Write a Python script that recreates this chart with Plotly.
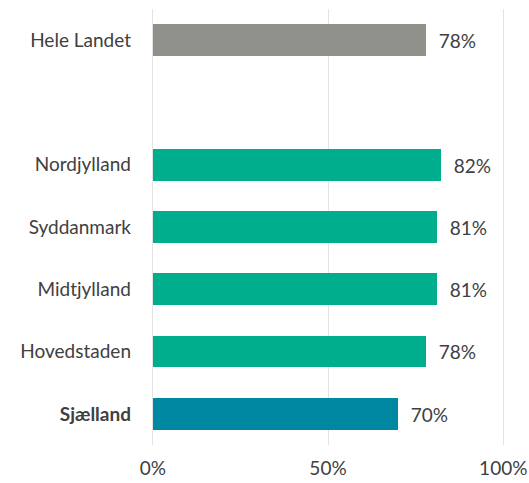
import plotly.graph_objects as go

categories = ["Hele Landet", "", "Nordjylland", "Syddanmark", "Midtjylland", "Hovedstaden", "Sjælland"]
values = [77.9, None, 82.3, 81.2, 81.2, 77.9, 70.0]
labels = ["78%", "", "82%", "81%", "81%", "78%", "70%"]
tick_labels = ["Hele Landet", "", "Nordjylland", "Syddanmark", "Midtjylland", "Hovedstaden", "<b>Sjælland</b>"]
colors = ["#91918B", "#00AE8E", "#00AE8E", "#00AE8E", "#00AE8E", "#00AE8E", "#0087A1"]
x_ticks = [0, 50, 100]
x_tick_labels = ["0%", "50%", "100%"]

n = len(categories)
ypos = [n - 1 - i for i in range(n)]

fig = go.Figure()
fig.add_trace(go.Bar(
    x=values, y=ypos, orientation="h",
    marker=dict(color=colors, line=dict(width=0)),
    width=0.51,
    text=["\u00a0\u00a0" + t if t else "" for t in labels],
    textposition="outside",
    cliponaxis=False,
    textfont=dict(size=19, color="#404040"),
    hoverinfo="skip",
))

fig.update_layout(
    width=529, height=483,
    margin=dict(l=150.75, r=24.25, t=9, b=38, autoexpand=False),
    plot_bgcolor="white", paper_bgcolor="white",
    font=dict(family="Lato, Open Sans, sans-serif", size=19, color="#404040"),
    showlegend=False,
    bargap=0,
)
fig.update_xaxes(
    range=[-0.5, 100.5], tickvals=x_ticks, ticktext=x_tick_labels,
    showgrid=True, gridcolor="#E3E3E3", gridwidth=1,
    zeroline=False, showline=False, ticks="",
    ticklabelstandoff=10, automargin=False,
    tickfont=dict(size=19, color="#404040"),
)
fig.update_yaxes(
    range=[-0.5, n - 0.5], tickvals=ypos, ticktext=tick_labels,
    showgrid=False, zeroline=False, showline=False, ticks="",
    ticklabelstandoff=19, automargin=False,
    tickfont=dict(size=19, color="#404040"),
)

fig.write_html(
    "out.html",
    config={"displayModeBar": False},
    post_script="document.body.style.margin='0';document.body.style.padding='0';document.body.style.overflow='hidden';",
)
